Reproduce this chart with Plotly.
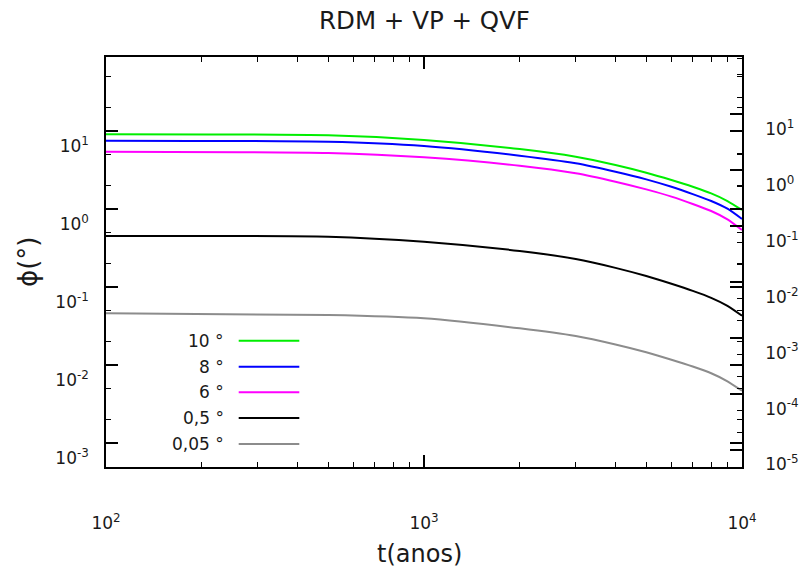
import plotly.graph_objects as go

# ---------------- data ----------------
t_anos = [100, 500, 1000, 2000, 3000, 4000, 5000, 6000, 7000, 8000, 9000, 10000]
phi_10 = [8.99, 8.73, 7.60, 5.82, 4.64, 3.63, 2.89, 2.33, 1.91, 1.57, 1.255, 0.962]
phi_8 = [7.45, 7.22, 6.37, 4.78, 3.82, 2.98, 2.38, 1.91, 1.54, 1.255, 1.0, 0.738]
phi_6 = [5.38, 5.18, 4.56, 3.56, 2.85, 2.22, 1.77, 1.43, 1.15, 0.935, 0.731, 0.533]
phi_05 = [0.447, 0.438, 0.377, 0.287, 0.2265, 0.1746, 0.137, 0.109, 0.0885, 0.0721, 0.0569, 0.0425]
phi_005 = [0.0456, 0.0434, 0.0394, 0.0293, 0.0233, 0.01815, 0.01442, 0.01159, 0.00948, 0.00778, 0.00614, 0.00464]

series_names = ["10 °", "8 °", "6 °", "0,5 °", "0,05 °"]
series_values = [phi_10, phi_8, phi_6, phi_05, phi_005]
series_colors = ["#00ee00", "#0000ff", "#ff00ff", "#000000", "#8c8c8c"]

x_tickvals = [100, 1000, 10000]
x_ticktext = ["10<sup>2</sup>", "10<sup>3</sup>", "10<sup>4</sup>"]
y_tickvals = [1e-3, 1e-2, 1e-1, 1e0, 1e1]
y_ticktext = ["10<sup>-3</sup>", "10<sup>-2</sup>", "10<sup>-1</sup>", "10<sup>0</sup>", "10<sup>1</sup>"]
y2_tickvals = [1e-5, 1e-4, 1e-3, 1e-2, 1e-1, 1e0, 1e1]
y2_ticktext = ["10<sup>-5</sup>", "10<sup>-4</sup>", "10<sup>-3</sup>", "10<sup>-2</sup>",
               "10<sup>-1</sup>", "10<sup>0</sup>", "10<sup>1</sup>"]

title_text = "RDM + VP + QVF"
x_title = "t(anos)"
y_title = "ϕ(°)"

# ---------------- layout geometry ----------------
W, H = 803, 572
L, R, T, B = 106, 742, 57, 467
PW, PH = R - L, B - T
FONT = "DejaVu Sans"
TXT = "#1a1a1a"


def px(xp):
    return (xp - L) / PW


def py(yp):
    return (B - yp) / PH


fig = go.Figure()
for name, vals, col in zip(series_names, series_values, series_colors):
    fig.add_trace(go.Scatter(x=t_anos, y=vals, mode="lines", name=name,
                             line=dict(color=col, width=2, shape="spline", smoothing=0.6),
                             yaxis="y", showlegend=False))

axis_common = dict(type="log", showgrid=False, zeroline=False, showline=True,
                   linecolor="#000000", linewidth=1.5, ticks="inside",
                   tickcolor="#000000", tickwidth=1.5, ticklen=12, automargin=False,
                   tickfont=dict(family=FONT, size=17, color=TXT))

fig.update_layout(
    width=W, height=H, autosize=False,
    margin=dict(l=L, r=W - R, t=T, b=H - B, pad=0),
    paper_bgcolor="white", plot_bgcolor="white",
    showlegend=False,
    xaxis=dict(**axis_common, range=[2, 4], tickmode="array", tickvals=x_tickvals,
               ticktext=x_ticktext, mirror="ticks", ticklabelstandoff=40,
               minor=dict(dtick="D1", ticks="inside", ticklen=5, tickwidth=1.2,
                          tickcolor="#000000", showgrid=False)),
    yaxis=dict(**axis_common, range=[-3.311, 1.945], tickmode="array",
               tickvals=y_tickvals, ticktext=y_ticktext, mirror="ticks",
               ticklabelstandoff=12, ticklabelshift=15,
               minor=dict(dtick="D2", ticks="inside", ticklen=5, tickwidth=1.2,
                          tickcolor="#000000", showgrid=False)),
    yaxis2=dict(**axis_common, overlaying="y", side="right", anchor="x",
                range=[-5.313, 2.02], tickmode="array", tickvals=y2_tickvals,
                ticktext=y2_ticktext, ticklabelstandoff=18, ticklabelshift=15,
                minor=dict(dtick="D2", ticks="inside", ticklen=5, tickwidth=1.2,
                           tickcolor="#000000", showgrid=False)),
)

# invisible trace to activate y2
fig.add_trace(go.Scatter(x=[t_anos[0]], y=[phi_10[0]], yaxis="y2", mode="markers",
                         marker=dict(opacity=0), hoverinfo="skip", showlegend=False))

annotations = [
    dict(text=title_text, x=px(424), y=py(21), xref="paper", yref="paper",
         xanchor="center", yanchor="middle", showarrow=False,
         font=dict(family=FONT, size=24.5, color=TXT)),
    dict(text=x_title, x=px(419), y=py(554), xref="paper", yref="paper",
         xanchor="center", yanchor="middle", showarrow=False,
         font=dict(family=FONT, size=24, color=TXT)),
    dict(text=y_title, x=px(28), y=py(262), xref="paper", yref="paper",
         xanchor="center", yanchor="middle", showarrow=False, textangle=-90,
         font=dict(family=FONT, size=26, color=TXT)),
]
shapes = []
legend_rows = [340.7, 366.7, 392.3, 418, 444]
for name, col, yr in zip(series_names, series_colors, legend_rows):
    annotations.append(dict(text=name, x=px(226), y=py(yr), xref="paper", yref="paper",
                            xanchor="right", yanchor="middle", showarrow=False,
                            font=dict(family=FONT, size=17, color=TXT)))
    shapes.append(dict(type="line", xref="paper", yref="paper", x0=px(238.7), x1=px(299.3),
                       y0=py(yr), y1=py(yr), line=dict(color=col, width=2)))

fig.update_layout(annotations=annotations, shapes=shapes)
fig.write_html("out.html", config={"displayModeBar": False},
               post_script="document.body.style.margin='0px';")
